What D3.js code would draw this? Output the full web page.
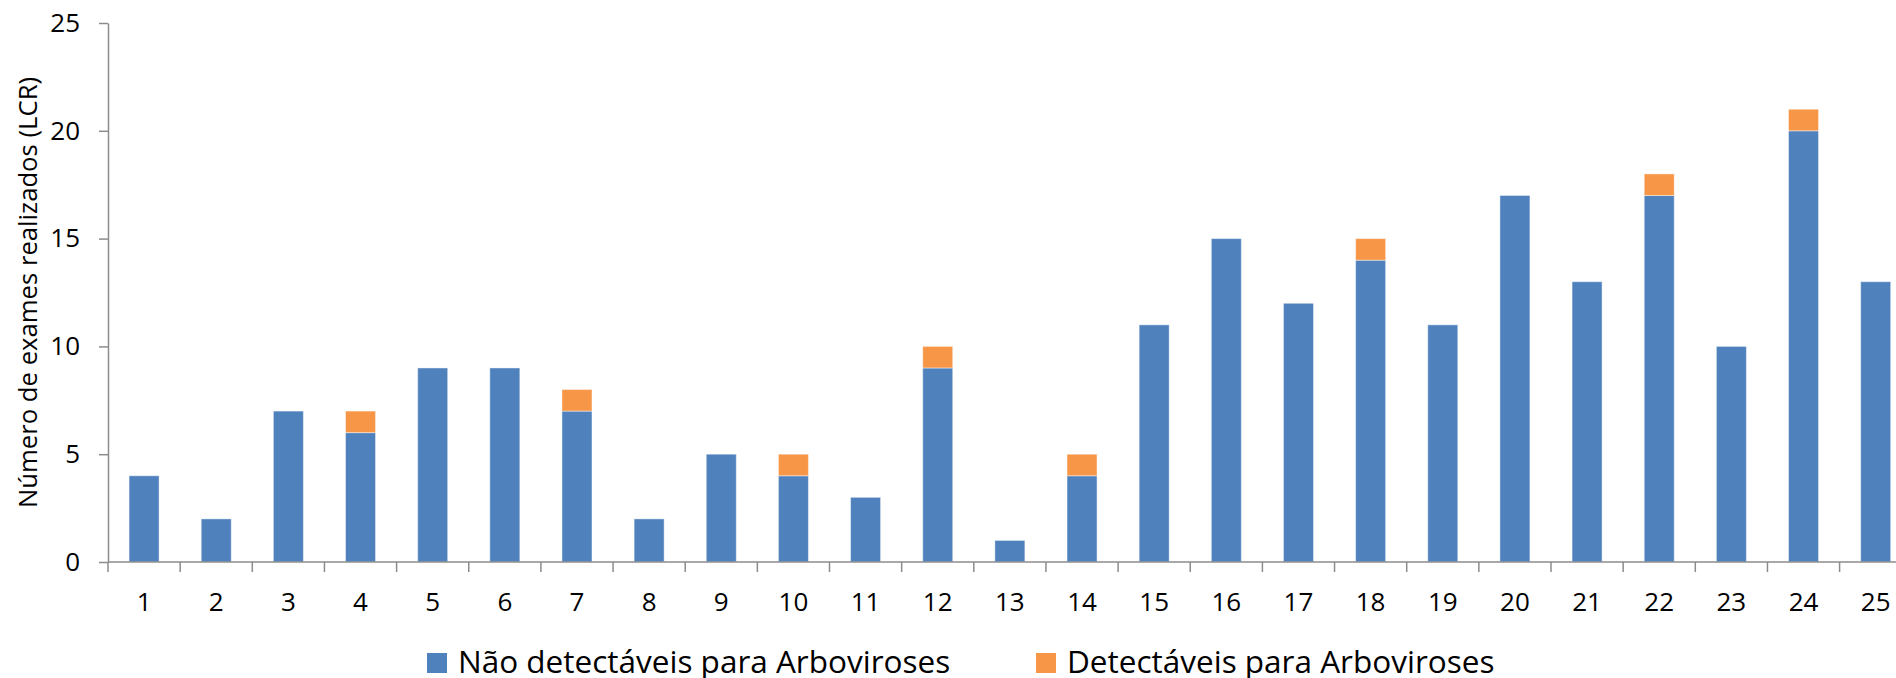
<!DOCTYPE html>
<html>
<head>
<meta charset="utf-8">
<script src="https://cdn.jsdelivr.net/npm/d3@7"></script>
<style>
  html, body { margin: 0; padding: 0; background: #ffffff; }
  svg { display: block; font-family: "Open Sans", sans-serif; }
</style>
</head>
<body>
<svg id="chart" width="1896" height="678"></svg>
<script>
// Weeks on the x axis
const categories = ["1","2","3","4","5","6","7","8","9","10","11","12","13","14","15","16","17","18","19","20","21","22","23","24","25"];
// CSF exams with no arbovirus detected
const naoDetectaveis = [4,2,7,6,9,9,7,2,5,4,3,9,1,4,11,15,12,14,11,17,13,17,10,20,13];
// CSF exams with arbovirus detected
const detectaveis = [0,0,0,1,0,0,1,0,0,1,0,1,0,1,0,0,0,1,0,0,0,1,0,1,0];
const seriesNames = ["Não detectáveis para Arboviroses", "Detectáveis para Arboviroses"];
const seriesColors = ["#4F81BD", "#F79646"];
const yTicks = [0,5,10,15,20,25];
const yTitle = "Número de exames realizados (LCR)";

const svg = d3.select("#chart");

const plot = { left: 108, top: 23, bottom: 562, step: 72.15 };
const x = d3.scaleBand()
  .domain(categories)
  .range([plot.left, plot.left + plot.step * categories.length])
  .paddingInner(0.584)
  .paddingOuter(0.292);
const y = d3.scaleLinear().domain([0, 25]).range([plot.bottom, plot.top]);

const rows = categories.map((c, i) => ({ cat: c, a: naoDetectaveis[i], b: detectaveis[i] }));
const stacked = d3.stack().keys(["a", "b"])(rows);

const axisColor = "#8c8c8c";

// Bars
svg.append("g").selectAll("g")
  .data(stacked)
  .join("g")
  .attr("fill", (d, i) => seriesColors[i])
  .selectAll("rect")
  .data(d => d.filter(s => s[1] - s[0] > 0))
  .join("rect")
  .attr("x", d => x(d.data.cat))
  .attr("width", x.bandwidth())
  .attr("y", d => y(d[1]))
  .attr("height", d => y(d[0]) - y(d[1]))
  .attr("stroke", "rgba(255,255,255,0.45)")
  .attr("stroke-width", 1);

// Y axis
const yAxis = svg.append("g")
  .attr("transform", `translate(${plot.left},0)`)
  .call(d3.axisLeft(y).tickValues(yTicks).tickSize(9).tickPadding(19).tickSizeOuter(0));
yAxis.select(".domain").attr("stroke", axisColor).attr("stroke-width", 1.5);
yAxis.selectAll(".tick line").attr("stroke", axisColor).attr("stroke-width", 1.5);
yAxis.selectAll(".tick text")
  .attr("fill", "#000")
  .style("font-size", "26px")
  .style("font-family", "'Open Sans', sans-serif");

// X axis line, tick marks at band boundaries, labels at band centres
const xg = svg.append("g").attr("transform", `translate(0,${plot.bottom})`);
xg.append("line")
  .attr("x1", plot.left).attr("x2", x.range()[1])
  .attr("y1", 0).attr("y2", 0)
  .attr("stroke", axisColor).attr("stroke-width", 1.5);
const bounds = categories.map(c => x(c) - x.step() * x.paddingOuter());
xg.selectAll("line.tk")
  .data(bounds)
  .join("line")
  .attr("class", "tk")
  .attr("x1", d => d).attr("x2", d => d)
  .attr("y1", 0).attr("y2", 10)
  .attr("stroke", axisColor).attr("stroke-width", 1.5);
xg.selectAll("text")
  .data(categories)
  .join("text")
  .attr("x", d => x(d) + x.bandwidth() / 2)
  .attr("y", 48.5)
  .attr("text-anchor", "middle")
  .attr("fill", "#000")
  .style("font-size", "26px")
  .text(d => d);

// Y axis title
svg.append("text")
  .attr("transform", `translate(37,${(plot.top + plot.bottom) / 2}) rotate(-90)`)
  .attr("text-anchor", "middle")
  .attr("fill", "#000")
  .style("font-size", "25.7px")
  .text(yTitle);

// Legend
const legendX = [427, 1036];
const lg = svg.append("g").selectAll("g")
  .data(seriesNames)
  .join("g")
  .attr("transform", (d, i) => `translate(${legendX[i]},653)`);
lg.append("rect")
  .attr("width", 20).attr("height", 20)
  .attr("fill", (d, i) => seriesColors[i]);
lg.append("text")
  .attr("x", 31).attr("y", 20)
  .attr("fill", "#000")
  .style("font-size", "31.5px")
  .text(d => d);
</script>
</body>
</html>
